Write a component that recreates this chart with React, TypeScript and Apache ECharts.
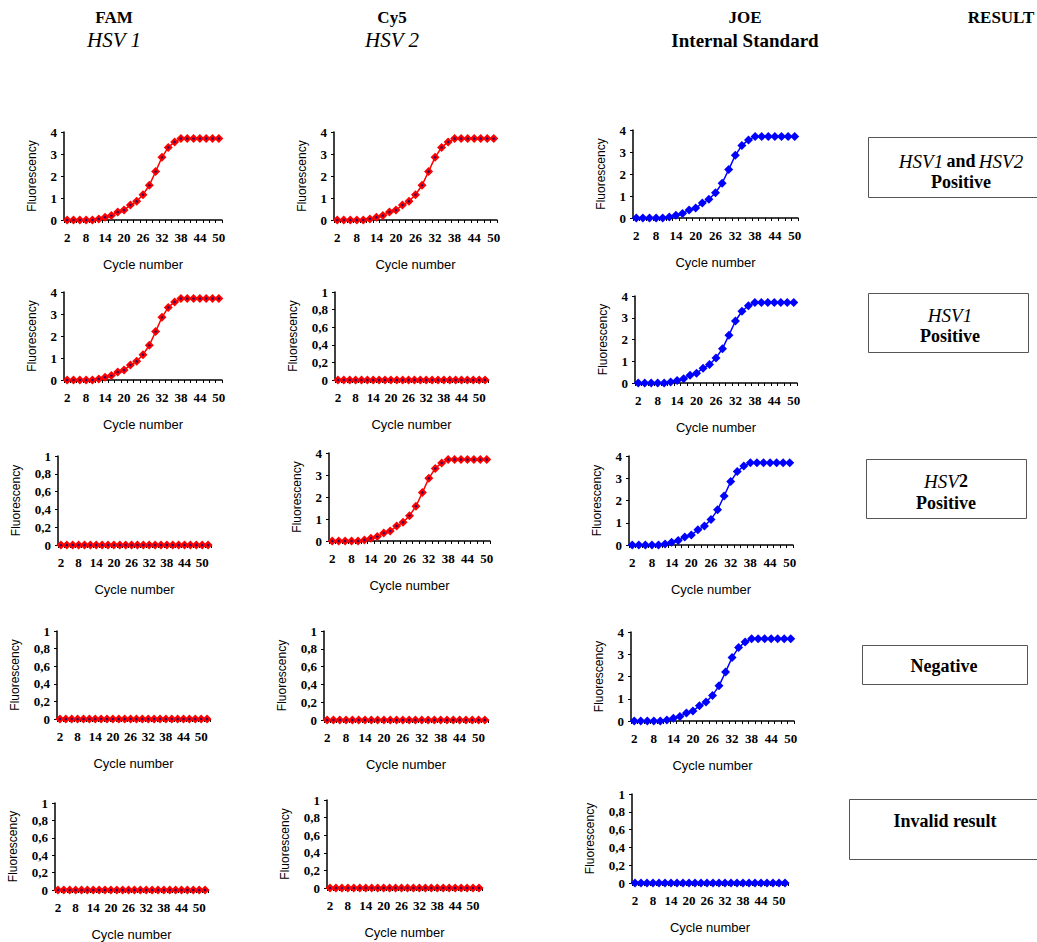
import { useEffect, useRef } from 'react';
import * as echarts from 'echarts';

// ---- data ----
const CYCLES_POSITIVE = ['2', '4', '6', '8', '10', '12', '14', '16', '18', '20', '22', '24', '26', '28', '30', '32', '34', '36', '38', '40', '42', '44', '46', '48', '50'];
const CYCLES_NEGATIVE = ['2', '4', '6', '8', '10', '12', '14', '16', '18', '20', '22', '24', '26', '28', '30', '32', '34', '36', '38', '40', '42', '44', '46', '48', '50', '52'];
const FLUOR_POSITIVE = [0, 0, 0, 0, 0, 0.05, 0.12, 0.2, 0.36, 0.45, 0.68, 0.85, 1.15, 1.58, 2.2, 2.85, 3.3, 3.55, 3.7, 3.7, 3.7, 3.7, 3.7, 3.7, 3.7];
const FLUOR_NEGATIVE = [0, 0, 0, 0, 0, 0, 0, 0, 0, 0, 0, 0, 0, 0, 0, 0, 0, 0, 0, 0, 0, 0, 0, 0, 0, 0];
const HEADER_DYES = ['FAM', 'Cy5', 'JOE', 'RESULT'];
const HEADER_TARGETS = ['HSV 1', 'HSV 2', 'Internal Standard'];
const RESULTS = ['HSV1 and HSV2|Positive', 'HSV1|Positive', 'HSV2|Positive', 'Negative', 'Invalid result'];

// ---- layout ----
type Panel = { kind: 'pos' | 'neg'; dye: 'red' | 'blue'; left: number; top: number; width: number; height: number };
const PANELS: Panel[] = [
  { kind: 'pos', dye: 'red', left: 64, top: 132, width: 158, height: 88 },
  { kind: 'pos', dye: 'red', left: 334, top: 132, width: 163, height: 88 },
  { kind: 'pos', dye: 'blue', left: 633, top: 130, width: 165, height: 88 },
  { kind: 'pos', dye: 'red', left: 64, top: 292, width: 158, height: 88 },
  { kind: 'neg', dye: 'red', left: 335, top: 292, width: 153, height: 88 },
  { kind: 'pos', dye: 'blue', left: 635, top: 296, width: 162, height: 87 },
  { kind: 'neg', dye: 'red', left: 58, top: 456, width: 153, height: 89 },
  { kind: 'pos', dye: 'red', left: 329, top: 453, width: 161, height: 88 },
  { kind: 'pos', dye: 'blue', left: 629, top: 456, width: 164, height: 89 },
  { kind: 'neg', dye: 'red', left: 57, top: 631, width: 153, height: 88 },
  { kind: 'neg', dye: 'red', left: 324, top: 631, width: 164, height: 89 },
  { kind: 'pos', dye: 'blue', left: 631, top: 632, width: 163, height: 89 },
  { kind: 'neg', dye: 'red', left: 55, top: 803, width: 153, height: 88 },
  { kind: 'neg', dye: 'red', left: 327, top: 800, width: 155, height: 88 },
  { kind: 'neg', dye: 'blue', left: 632, top: 794, width: 156, height: 89 },
];

const SERIF = 'Liberation Serif';
const SANS = 'Liberation Sans';

export default function App() {
  const ref = useRef<HTMLDivElement>(null);
  useEffect(() => {
    const chart = echarts.init(ref.current!, null, { renderer: 'svg' });
    const grid: any[] = [];
    const xAxis: any[] = [];
    const yAxis: any[] = [];
    const series: any[] = [];
    PANELS.forEach((p, i) => {
      const pos = p.kind === 'pos';
      grid.push({ left: p.left, top: p.top, width: p.width, height: p.height });
      xAxis.push({
        type: 'category',
        gridIndex: i,
        data: pos ? CYCLES_POSITIVE : CYCLES_NEGATIVE,
        boundaryGap: true,
        name: 'Cycle number',
        nameLocation: 'middle',
        nameGap: 38,
        nameTextStyle: { fontFamily: SANS, fontSize: 13, color: '#000' },
        axisLine: { onZero: false, lineStyle: { color: '#000', width: 1.5 } },
        axisTick: { show: true, interval: 0, length: 3, lineStyle: { color: '#000' } },
        axisLabel: { interval: 2, margin: 11, fontFamily: SERIF, fontWeight: 'bold', fontSize: 13, color: '#000' },
        splitLine: { show: false },
      });
      yAxis.push({
        type: 'value',
        gridIndex: i,
        min: 0,
        max: pos ? 4 : 1,
        interval: pos ? 1 : 0.2,
        name: 'Fluorescency',
        nameLocation: 'middle',
        nameGap: pos ? 26 : 36,
        nameTextStyle: { fontFamily: SANS, fontSize: 12, color: '#000' },
        axisLine: { show: true, lineStyle: { color: '#000', width: 1.5 } },
        axisTick: { show: true, length: 3, lineStyle: { color: '#000' } },
        axisLabel: {
          margin: 7,
          fontFamily: SERIF,
          fontWeight: 'bold',
          fontSize: 13,
          color: '#000',
          formatter: (v: number) => (Math.abs(v - Math.round(v)) < 1e-9 ? String(Math.round(v)) : v.toFixed(1).replace('.', ',')),
        },
        splitLine: { show: false },
      });
      const data = pos ? FLUOR_POSITIVE : FLUOR_NEGATIVE;
      const c = p.dye === 'red' ? '#ff0000' : '#0000ff';
      series.push({
        type: 'line',
        xAxisIndex: i,
        yAxisIndex: i,
        data,
        symbol: 'diamond',
        symbolSize: 9,
        showAllSymbol: true,
        itemStyle: { color: c },
        lineStyle: { color: c, width: 1.5 },
        silent: true,
        z: 2,
      });
      if (p.dye === 'red') {
        series.push({
          type: 'scatter',
          xAxisIndex: i,
          yAxisIndex: i,
          data,
          symbol: 'circle',
          symbolSize: 2.5,
          itemStyle: { color: '#000080' },
          silent: true,
          z: 3,
        });
      }
    });

    const headerX = [114, 392, 745, 1001];
    const graphic: any[] = [];
    HEADER_DYES.forEach((t, i) => {
      graphic.push({ type: 'text', x: headerX[i], y: 17, style: { text: t, font: `bold 17px "${SERIF}"`, fill: '#000', align: 'center', verticalAlign: 'middle' } });
    });
    HEADER_TARGETS.forEach((t, i) => {
      const italic = i < 2;
      graphic.push({
        type: 'text', x: headerX[i], y: 40,
        style: { text: t, font: italic ? `italic 21px "${SERIF}"` : `bold 19px "${SERIF}"`, fill: '#000', align: 'center', verticalAlign: 'middle' },
      });
    });

    const boxes = [
      { x: 868, y: 137, w: 172, h: 60, cx: 961, ly: [161, 182] },
      { x: 868, y: 293, w: 160, h: 59, cx: 950, ly: [315, 336] },
      { x: 866, y: 459, w: 160, h: 59, cx: 946, ly: [481, 503] },
      { x: 862, y: 645, w: 165, h: 39, cx: 944, ly: [666] },
      { x: 849, y: 799, w: 192, h: 60, cx: 945, ly: [821] },
    ];
    const rich = {
      i: { fontFamily: SERIF, fontStyle: 'italic', fontSize: 19, fill: '#000' },
      b: { fontFamily: SERIF, fontWeight: 'bold', fontSize: 18, fill: '#000' },
    };
    RESULTS.forEach((r, i) => {
      const b = boxes[i];
      graphic.push({ type: 'rect', shape: { x: b.x + 0.5, y: b.y + 0.5, width: b.w, height: b.h }, style: { fill: '#fff', stroke: '#555', lineWidth: 1 } });
      const lines = r.split('|');
      lines.forEach((ln, k) => {
        let text: string;
        if (ln === 'HSV1 and HSV2') text = '{i|HSV1} {b|and} {i|HSV2}';
        else if (ln === 'HSV1') text = '{i|HSV1}';
        else if (ln === 'HSV2') text = '{i|HSV}{b|2}';
        else text = `{b|${ln}}`;
        graphic.push({ type: 'text', x: b.cx, y: b.ly[k], style: { text, rich, align: 'center', verticalAlign: 'middle' } });
      });
    });

    chart.setOption({
      animation: false,
      backgroundColor: '#fff',
      grid,
      xAxis,
      yAxis,
      series,
      graphic,
    });
    return () => chart.dispose();
  }, []);
  return <div ref={ref} style={{ position: 'absolute', left: 0, top: 0, width: 1037, height: 942 }} />;
}
